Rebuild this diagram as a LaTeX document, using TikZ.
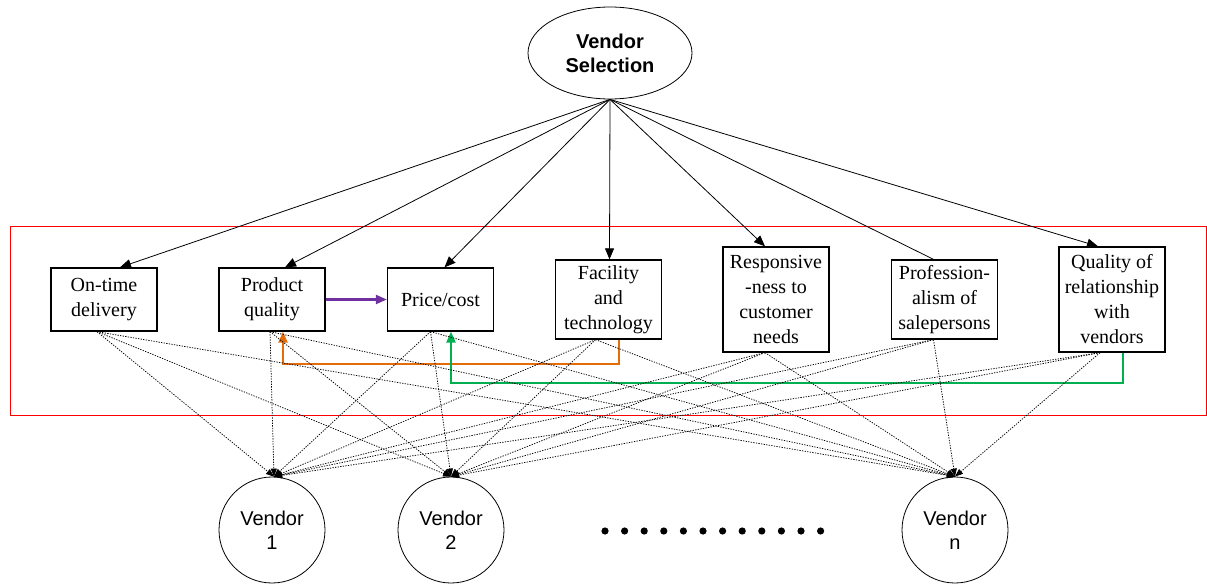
\documentclass[tikz,border=0pt]{standalone}
\usepackage{fontspec}
\setmainfont{Liberation Serif}
\setsansfont{Liberation Sans}
\newfontfamily\boxserif{Liberation Serif}
\newfontfamily\boxsans{Liberation Sans}
\usetikzlibrary{arrows.meta,calc,shapes.geometric}
\definecolor{cpurple}{HTML}{7030A0}
\definecolor{corange}{HTML}{E46C0A}
\definecolor{cgreen}{HTML}{00B050}
\begin{document}
\begin{tikzpicture}[x=1pt,y=-1pt,
  crit/.style={draw, line width=1.3pt, minimum width=106pt, inner sep=0pt, align=center,
    font=\boxserif\fontsize{20}{25}\selectfont},
  vend/.style={draw, circle, minimum size=106pt, inner sep=0pt, align=center, line width=0.8pt,
    font=\boxsans\fontsize{20}{24}\selectfont},
  goal/.style={draw, ellipse, minimum width=164pt, minimum height=92pt, inner sep=0pt, align=center,
    line width=0.8pt, font=\boxsans\bfseries\fontsize{20}{24}\selectfont},
  solidarr/.style={-{Triangle[length=11pt,width=9pt]}, line width=0.8pt},
  dotarr/.style={dash pattern=on 1.3pt off 1.3pt, line width=0.75pt, -{Triangle[length=8pt,width=6pt]}},
  colarr/.style={line width=2.2pt, -{Triangle[length=11pt,width=9pt]}},
  group/.style={draw=red, line width=0.9pt}
]
\useasboundingbox (0,0) rectangle (1207,585);
\draw[group] (10,226) rectangle (1206,415);

\node[goal] (sel) at (610,53) {Vendor\\Selection};

\node[crit, minimum height=63pt] (on)   at (104,299.5)  {On-time\\delivery};
\node[crit, minimum height=63pt] (pq)   at (272,299.5)  {Product\\quality};
\node[crit, minimum height=63pt] (pc)   at (440.5,299.5){Price/cost};
\node[crit, minimum height=79pt] (fac)  at (608.5,299.5){Facility\\and\\technology};
\node[crit, minimum height=105pt] (resp) at (776,299.5)  {Responsive\\-ness to\\customer\\needs};
\node[crit, minimum height=79pt] (prof) at (944.5,299.5){Profession-\\alism of\\salepersons};
\node[crit, minimum height=105pt] (qual) at (1112,299.5) {Quality of\\relationship\\with\\vendors};

\node[vend] (v1) at (272,530) {Vendor\\1};
\node[vend] (v2) at (451,530) {Vendor\\2};
\node[vend] (vn) at (955,530) {Vendor\\n};

\foreach \i in {0,...,11} \fill (605+19.6*\i,531) circle (3.6pt);

% goal to criteria
\draw[solidarr] (sel.south) -- ([xshift=16pt]on.north);
\draw[solidarr] (sel.south) -- ([xshift=13pt]pq.north);
\draw[solidarr] (sel.south) -- ([xshift=4pt]pc.north);
\draw[solidarr] (sel.south) -- ([xshift=1pt]fac.north);
\draw[solidarr] (sel.south) -- ([xshift=-11pt]resp.north);
\draw[line width=0.8pt] (sel.south) -- ([xshift=-11pt]prof.north);
\draw[solidarr] (sel.south) -- ([xshift=-14pt]qual.north);

% interdependencies
\draw[colarr, cpurple] (pq.east) -- (pc.west);
\draw[colarr, corange] ([xshift=10.5pt]fac.south) -- ++(0,24) -| ([xshift=11pt]pq.south);
\draw[colarr, cgreen] ([xshift=11pt]qual.south) -- ++(0,30) -| ([xshift=10.5pt]pc.south);

% criteria to vendors
\foreach \c/\dx in {on/-7, pq/-2, pc/-10, fac/-13, resp/-11, prof/-11, qual/-12}{
  \draw[dotarr] ([xshift=\dx pt]\c.south) -- ([xshift=2pt]v1.north);
  \draw[dotarr] ([xshift=\dx pt]\c.south) -- (v2.north);
  \draw[dotarr] ([xshift=\dx pt]\c.south) -- (vn.north);
}
\end{tikzpicture}
\end{document}
